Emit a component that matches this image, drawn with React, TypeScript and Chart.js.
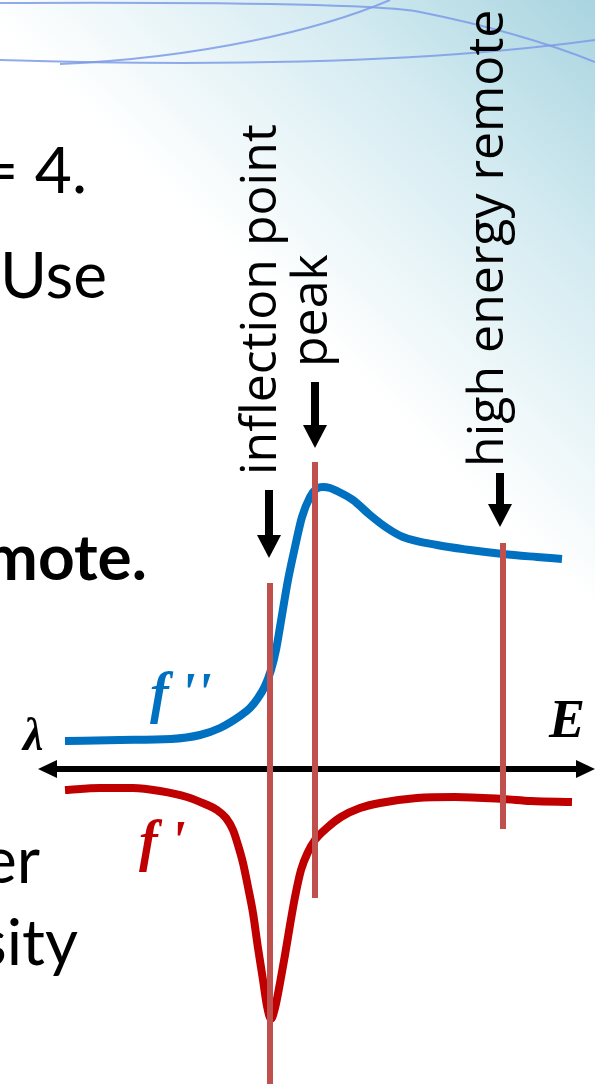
import { useEffect, useRef } from "react";
import { Chart, registerables } from "chart.js";

Chart.register(...registerables);

// Energy relative to the edge inflection point, arbitrary units
const fppEnergy = [-20.5, -15.0, -9.9, -7.0, -5.0, -3.0, -2.0, -1.2, -0.5, 0.1, 0.6, 1.0, 1.4, 1.8, 2.5, 3.2, 4.0, 4.6, 5.3, 6.0, 6.7, 8.3, 10.0, 11.7, 13.3, 16.7, 20.0, 23.3, 26.7, 29.2];
// f'' (absorptive part of the anomalous scattering factor)
const fppValue = [2.8, 2.9, 3.0, 3.4, 4.1, 5.3, 6.1, 7.1, 8.3, 9.9, 11.9, 14.2, 16.6, 18.9, 22.2, 25.2, 27.2, 28.0, 28.2, 28.1, 27.8, 26.9, 25.4, 24.1, 23.2, 22.4, 21.9, 21.5, 21.2, 21.0];

const fpEnergy = [-20.5, -17.0, -13.7, -11.0, -8.3, -6.5, -5.3, -4.4, -3.7, -3.2, -2.7, -2.2, -1.7, -1.2, -0.7, -0.3, 0.1, 0.5, 1.0, 1.5, 2.0, 2.5, 3.1, 3.8, 4.5, 5.8, 7.1, 9.0, 11.0, 14.7, 18.5, 23.3, 26.1, 30.2];
// f' (dispersive part)
const fpValue = [-2.1, -1.9, -1.9, -2.2, -2.8, -3.5, -4.1, -4.9, -6.1, -7.6, -9.4, -11.8, -14.4, -17.9, -21.1, -23.7, -25.0, -23.9, -21.4, -18.6, -15.6, -12.8, -10.1, -8.3, -7.1, -5.8, -4.8, -3.9, -3.4, -2.9, -2.8, -3.0, -3.2, -3.3];

// Wavelength choices for the MAD experiment
const markerNames = ["inflection point", "peak", "high energy remote"];
const markerEnergy = [0.0, 4.5, 23.3];
const markerTop = [18.6, 30.7, 22.6];
const markerBottom = [-31.5, -12.9, -6.0];
const arrowEnergy = [-0.1, 4.5, 23.0];
const arrowTail = [27.9, 38.7, 29.6];
const arrowTip = [21.1, 32.1, 24.2];
const labelEnergy = [0.6, 5.7, 23.3];
const labelStart = [29.4, 40.2, 30.2];

// Energy axis extent
const axisStart = -23.2;
const axisEnd = 32.5;

// Surrounding slide text fragments
const sideTexts = ["= 4.", "Use", "remote.", "er", "sity"];
const sideBold = [false, false, true, false, false];

const BLUE = "#0070c0";
const DARK_RED = "#c00000";
const MARK_RED = "#c0504d";
const SERIF = "'Liberation Serif', 'Times New Roman', serif";

const W = 595;
const H = 1084;

function drawArrowDown(ctx: CanvasRenderingContext2D, x: number, y0: number, y1: number) {
  const headLen = 23;
  const headHalf = 12;
  ctx.fillStyle = "#000";
  ctx.fillRect(x - 4, y0, 8, y1 - y0 - headLen + 1);
  ctx.beginPath();
  ctx.moveTo(x - headHalf, y1 - headLen);
  ctx.lineTo(x + headHalf, y1 - headLen);
  ctx.lineTo(x, y1);
  ctx.closePath();
  ctx.fill();
}

const overlay = {
  id: "madOverlay",
  beforeDraw(chart: any) {
    const ctx: CanvasRenderingContext2D = chart.ctx;
    ctx.save();
    // slide background
    ctx.fillStyle = "#fff";
    ctx.fillRect(0, 0, W, H);
    const g = ctx.createLinearGradient(W, 0, 290, 310);
    g.addColorStop(0, "#a8d4e0");
    g.addColorStop(0.45, "#d4ebf1");
    g.addColorStop(1, "#ffffff");
    ctx.fillStyle = g;
    ctx.fillRect(0, 0, W, H);

    // thin swooshes at the top of the slide
    ctx.strokeStyle = "rgba(125,155,230,0.85)";
    ctx.lineWidth = 2;
    ctx.beginPath();
    ctx.moveTo(0, 60);
    ctx.bezierCurveTo(200, 66, 420, 64, W, 40);
    ctx.stroke();
    ctx.beginPath();
    ctx.moveTo(0, 3);
    ctx.bezierCurveTo(220, 2, 380, 4, 420, 12);
    ctx.bezierCurveTo(480, 24, 540, 40, W, 62);
    ctx.stroke();
    ctx.beginPath();
    ctx.moveTo(60, 64);
    ctx.bezierCurveTo(200, 58, 320, 30, 390, 0);
    ctx.stroke();

    // text fragments of the slide body
    const rights = [87, 107, 147, 40, 78];
    const bases = [193, 298, 580, 883, 965];
    ctx.fillStyle = "#000";
    ctx.textAlign = "right";
    ctx.textBaseline = "alphabetic";
    sideTexts.forEach((t, i) => {
      ctx.font = `${sideBold[i] ? "bold " : ""}64px Lato`;
      ctx.fillText(t, rights[i], bases[i]);
    });
    ctx.restore();
  },
  beforeDatasetsDraw(chart: any) {
    const ctx: CanvasRenderingContext2D = chart.ctx;
    const xs = chart.scales.x;
    const ys = chart.scales.y;
    const y0 = ys.getPixelForValue(0);
    const xa = xs.getPixelForValue(axisStart);
    const xb = xs.getPixelForValue(axisEnd);
    ctx.save();
    ctx.strokeStyle = "#000";
    ctx.fillStyle = "#000";
    ctx.lineWidth = 6;
    ctx.beginPath();
    ctx.moveTo(xa + 10, y0);
    ctx.lineTo(xb - 10, y0);
    ctx.stroke();
    const hl = 19;
    const hw = 9;
    ctx.beginPath();
    ctx.moveTo(xa, y0);
    ctx.lineTo(xa + hl, y0 - hw);
    ctx.lineTo(xa + hl, y0 + hw);
    ctx.closePath();
    ctx.fill();
    ctx.beginPath();
    ctx.moveTo(xb, y0);
    ctx.lineTo(xb - hl, y0 - hw);
    ctx.lineTo(xb - hl, y0 + hw);
    ctx.closePath();
    ctx.fill();
    ctx.restore();
  },
  afterDatasetsDraw(chart: any) {
    const ctx: CanvasRenderingContext2D = chart.ctx;
    const xs = chart.scales.x;
    const ys = chart.scales.y;
    ctx.save();

    // marker lines at the chosen energies
    ctx.strokeStyle = MARK_RED;
    ctx.lineWidth = 6;
    markerEnergy.forEach((e, i) => {
      const x = xs.getPixelForValue(e);
      ctx.beginPath();
      ctx.moveTo(x, ys.getPixelForValue(markerTop[i]));
      ctx.lineTo(x, ys.getPixelForValue(markerBottom[i]));
      ctx.stroke();
    });

    // arrows and rotated labels
    arrowEnergy.forEach((e, i) => {
      drawArrowDown(ctx, xs.getPixelForValue(e), ys.getPixelForValue(arrowTail[i]), ys.getPixelForValue(arrowTip[i]));
    });
    ctx.fillStyle = "#000";
    ctx.font = "50px 'Open Sans'";
    ctx.textAlign = "left";
    ctx.textBaseline = "alphabetic";
    markerNames.forEach((t, i) => {
      ctx.save();
      ctx.translate(xs.getPixelForValue(labelEnergy[i]), ys.getPixelForValue(labelStart[i]));
      ctx.rotate(-Math.PI / 2);
      ctx.fillText(t, 0, 0);
      ctx.restore();
    });

    // axis symbols and curve names
    ctx.textAlign = "left";
    ctx.font = `italic bold 46px ${SERIF}`;
    ctx.fillText("λ", 23, 750);
    ctx.font = `italic bold 54px ${SERIF}`;
    ctx.fillText("E", 549, 737);
    ctx.fillStyle = BLUE;
    ctx.font = `italic bold 56px ${SERIF}`;
    ctx.fillText("f", 150, 712);
    ctx.fillText("'", 180, 712);
    ctx.fillText("'", 196, 712);
    ctx.fillStyle = DARK_RED;
    ctx.fillText("f", 139, 860);
    ctx.fillText("'", 170, 860);
    ctx.restore();
  },
};

export default function App() {
  const canvasRef = useRef<HTMLCanvasElement | null>(null);

  useEffect(() => {
    document.body.style.margin = "0";
    const canvas = canvasRef.current;
    if (!canvas) return;
    const chart = new Chart(canvas, {
      type: "line",
      data: {
        datasets: [
          {
            label: "f''",
            data: fppEnergy.map((x, i) => ({ x, y: fppValue[i] })),
            borderColor: BLUE,
            borderWidth: 8,
            pointRadius: 0,
            cubicInterpolationMode: "monotone",
            fill: false,
          },
          {
            label: "f'",
            data: fpEnergy.map((x, i) => ({ x, y: fpValue[i] })),
            borderColor: DARK_RED,
            borderWidth: 8,
            pointRadius: 0,
            cubicInterpolationMode: "monotone",
            fill: false,
          },
        ],
      },
      options: {
        responsive: false,
        animation: false,
        events: [],
        layout: { padding: 0 },
        plugins: { legend: { display: false }, tooltip: { enabled: false }, title: { display: false } },
        scales: {
          x: { type: "linear", min: -27, max: 32.5, display: false },
          y: { type: "linear", min: -31.5, max: 76.9, display: false },
        },
      },
      plugins: [overlay],
    });
    // redraw once the local faces are resolved
    let alive = true;
    const fonts = (document as any).fonts;
    if (fonts && fonts.load) {
      Promise.all([
        fonts.load(`italic bold 54px ${SERIF}`),
        fonts.load("50px 'Open Sans'"),
        fonts.load("64px Lato"),
        fonts.load("bold 64px Lato"),
      ])
        .catch(() => undefined)
        .then(() => {
          if (alive) chart.draw();
        });
    }
    return () => {
      alive = false;
      chart.destroy();
    };
  }, []);

  return (
    <div style={{ position: "absolute", left: 0, top: 0, width: W, height: H }}>
      <canvas ref={canvasRef} width={W} height={H} style={{ width: W, height: H, display: "block" }} />
    </div>
  );
}
